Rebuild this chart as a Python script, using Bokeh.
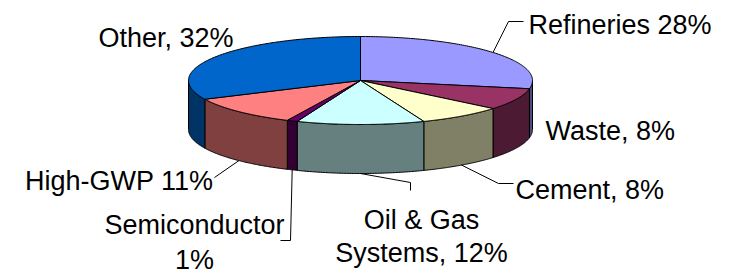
import numpy as np
from bokeh.plotting import figure
from bokeh.models import Range1d, ColumnDataSource
from bokeh.core.properties import value
from bokeh.embed import file_html
from bokeh.resources import INLINE

# ---------------- data ----------------
categories = ["Refineries", "Waste", "Cement", "Oil & Gas Systems",
              "Semiconductor", "High-GWP", "Other"]
shares = [28, 8, 8, 12, 1, 11, 32]
label_texts = ["Refineries 28%", "Waste, 8%", "Cement, 8%",
               "Oil & Gas\nSystems, 12%", "Semiconductor\n1%",
               "High-GWP 11%", "Other, 32%"]
top_colors = ["#9999FF", "#993366", "#FFFFCC", "#CCFFFF",
              "#660066", "#FF8080", "#0066CC"]
side_colors = ["#4D4D80", "#4D1A33", "#808066", "#668080",
               "#330033", "#804040", "#003366"]

# ---------------- layout (pixel-like data space) ----------------
W, H = 733, 273
CX, CY = 360.0, 80.0
RX, RY = 172.0, 44.0
DEPTH = 49.0
FONT = value("Liberation Sans")
FSIZE = "27px"
TEXT_DY = -8  # renderer baseline correction

# label anchor (x, first baseline, align, line gap) and leader path after the rim anchor
label_layout = {
    "Refineries": (528, 32, "left", 0, [(508, 21), (523, 21)], "top"),
    "Waste": (545, 138, "left", 0, None, None),
    "Cement": (515, 197, "left", 0, [(498, 183), (513, 183)], "bottom"),
    "Oil & Gas Systems": (421, 227, "center", 33, [(410, 182), (410, 190)], "bottom"),
    "Semiconductor": (194, 232, "center", 35, [(290, 240), (280, 240)], "bottom"),
    "High-GWP": (213, 188, "right", 0, [(214, 177)], "bottom"),
    "Other": (233, 45, "right", 0, None, None),
}

p = figure(width=W, height=H, x_range=Range1d(0, W), y_range=Range1d(H, 0),
           x_axis_type=None, y_axis_type=None, toolbar_location=None,
           output_backend="svg", min_border=0, outline_line_color=None,
           background_fill_color="white", border_fill_color="white")
p.xgrid.grid_line_color = None
p.ygrid.grid_line_color = None


def ell(theta_deg, dy=0.0):
    t = np.radians(theta_deg)
    return CX + RX * np.cos(t), CY - RY * np.sin(t) + dy


frac = np.array(shares, dtype=float) / float(sum(shares))
cum = np.concatenate([[0.0], np.cumsum(frac)])
start_ang = 90 - 360 * cum[:-1]
end_ang = 90 - 360 * cum[1:]

# side walls (front half only: angles in [-180, 0])
wx, wy, wc = [], [], []
for i in range(len(shares)):
    hi = min(start_ang[i], 0.0)
    lo = max(end_ang[i], -180.0)
    if lo < hi:
        th = np.linspace(hi, lo, 80)
        x1, y1 = ell(th)
        x2, y2 = ell(th[::-1], DEPTH)
        wx.append(list(x1) + list(x2))
        wy.append(list(y1) + list(y2))
        wc.append(side_colors[i])
p.patches(xs=wx, ys=wy, fill_color=wc, line_color="black", line_width=1)

# top faces
tx, ty = [], []
for i in range(len(shares)):
    th = np.linspace(start_ang[i], end_ang[i], 120)
    x1, y1 = ell(th)
    tx.append([CX] + list(x1))
    ty.append([CY] + list(y1))
p.patches(xs=tx, ys=ty, fill_color=top_colors, line_color="black", line_width=1)

# leader lines and labels
for i, cat in enumerate(categories):
    lx, ly, align, gap, path, edge = label_layout[cat]
    if path:
        mid = (start_ang[i] + end_ang[i]) / 2
        ax, ay = ell(mid, DEPTH if edge == "bottom" else 0.0)
        xs = [ax] + [q[0] for q in path]
        ys = [ay] + [q[1] for q in path]
        p.line(xs, ys, line_color="black", line_width=1)
    lines = label_texts[i].split("\n")
    src = ColumnDataSource(dict(x=[lx] * len(lines),
                                y=[ly + TEXT_DY + k * gap for k in range(len(lines))],
                                t=lines))
    p.text(x="x", y="y", text="t", source=src, text_align=align,
           text_baseline="alphabetic", text_font=FONT, text_font_size=FSIZE,
           text_color="black")

open("out.html", "w").write(file_html(p, INLINE))
